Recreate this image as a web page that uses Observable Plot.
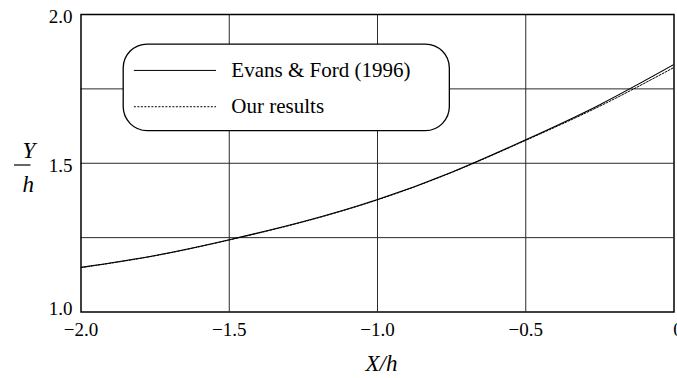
<!DOCTYPE html>
<html><head><meta charset="utf-8">
<script src="https://cdn.jsdelivr.net/npm/d3@7"></script>
<script src="https://cdn.jsdelivr.net/npm/@observablehq/plot@0.6"></script>
<style>
html,body{margin:0;padding:0;background:#fff;overflow:hidden}
#chart svg{display:block}
</style></head><body><div id="chart"></div>
<script>
// Surface elevation Y/h against horizontal distance X/h
const xh = [-2.0, -1.75, -1.5, -1.25, -1.0, -0.75, -0.5, -0.25, 0.0];
const evansFord = [1.150, 1.190, 1.243, 1.304, 1.378, 1.470, 1.579, 1.697, 1.832];
const ourResults = [1.149, 1.189, 1.242, 1.303, 1.377, 1.469, 1.577, 1.692, 1.822];

const xTicks = [-2.0, -1.5, -1.0, -0.5];
const xEndTick = [0];
const yTicks = [1.5, 2.0];
const yEndTick = [1.0];
const xGrid = [-1.5, -1.0, -0.5];
const yGrid = [1.25, 1.5, 1.75];
const legendLabels = ["Evans & Ford (1996)", "Our results"];

// legend placement, in data units
const legendBox = {x1: -1.856, x2: -0.756, y1: 1.608, y2: 1.899};
const legendRowY = [1.812, 1.690];
const legendLine = {x1: -1.820, x2: -1.543};
const legendTextX = -1.493;

const evansData = xh.map((x, i) => ({x, y: evansFord[i]}));
const oursData = xh.map((x, i) => ({x, y: ourResults[i]}));
const fmt = d => d === 0 ? "0" : d.toFixed(1).replace("-", "\u2212");

const svg = Plot.plot({
  width: 677,
  height: 378,
  marginLeft: 80.5,
  marginRight: 3.5,
  marginTop: 14,
  marginBottom: 66.5,
  style: {fontFamily: "'Liberation Serif', 'Times New Roman', serif", fontSize: "19px", background: "white", color: "black", overflow: "visible"},
  x: {domain: [-2, 0], axis: null},
  y: {domain: [1, 2], axis: null},
  marks: [
    Plot.ruleX(xGrid, {stroke: "#2a2a2a", strokeWidth: 1}),
    Plot.ruleY(yGrid, {stroke: "#2a2a2a", strokeWidth: 1}),
    Plot.line(evansData, {x: "x", y: "y", curve: "natural", stroke: "black", strokeWidth: 1.1, clip: true}),
    Plot.line(oursData, {x: "x", y: "y", curve: "natural", stroke: "black", strokeWidth: 1, strokeDasharray: "2,1.5", clip: true}),
    Plot.rect([legendBox], {x1: "x1", x2: "x2", y1: "y1", y2: "y2", rx: 24, fill: "white", stroke: "black", strokeWidth: 1.3}),
    Plot.ruleY([legendRowY[0]], {y: d => d, x1: legendLine.x1, x2: legendLine.x2, stroke: "black", strokeWidth: 1}),
    Plot.ruleY([legendRowY[1]], {y: d => d, x1: legendLine.x1, x2: legendLine.x2, stroke: "black", strokeWidth: 1, strokeDasharray: "2,1.5"}),
    Plot.text(legendLabels, {text: d => d, x: legendTextX, y: (d, i) => legendRowY[i], textAnchor: "start", fontSize: 21, fill: "black"}),
    Plot.frame({stroke: "black", strokeWidth: 1.5}),
    Plot.axisX(xTicks, {tickSize: 0, tickPadding: 10, tickFormat: fmt, label: null, fill: "black"}),
    Plot.axisX(xEndTick, {tickSize: 0, tickPadding: 10, tickFormat: fmt, label: null, dx: 4, fill: "black"}),
    Plot.axisY(yTicks, {tickSize: 0, tickPadding: 8.5, tickFormat: d => d.toFixed(1), label: null, dy: 2.5, fill: "black"}),
    Plot.axisY(yEndTick, {tickSize: 0, tickPadding: 8.5, tickFormat: d => d.toFixed(1), label: null, dy: -3, fill: "black"}),
    Plot.text(["X/h"], {text: d => d, frameAnchor: "bottom", lineAnchor: "bottom", dy: 59, dx: 4, fontSize: 23, fontStyle: "italic", fill: "black"}),
    Plot.text(["Y"], {text: d => d, frameAnchor: "left", lineAnchor: "bottom", dx: -58.5, dy: -5.5, fontSize: 23, fontStyle: "italic", fill: "black"}),
    Plot.text(["h"], {text: d => d, frameAnchor: "left", lineAnchor: "bottom", dx: -58.5, dy: 29, fontSize: 23, fontStyle: "italic", fill: "black"})
  ]
});

// fraction bar between the Y and h of the vertical axis label
d3.select(svg).append("line")
  .attr("x1", 14).attr("x2", 30.5)
  .attr("y1", 165).attr("y2", 165)
  .attr("stroke", "black").attr("stroke-width", 1.2);

document.getElementById("chart").appendChild(svg);
</script>
</body></html>
